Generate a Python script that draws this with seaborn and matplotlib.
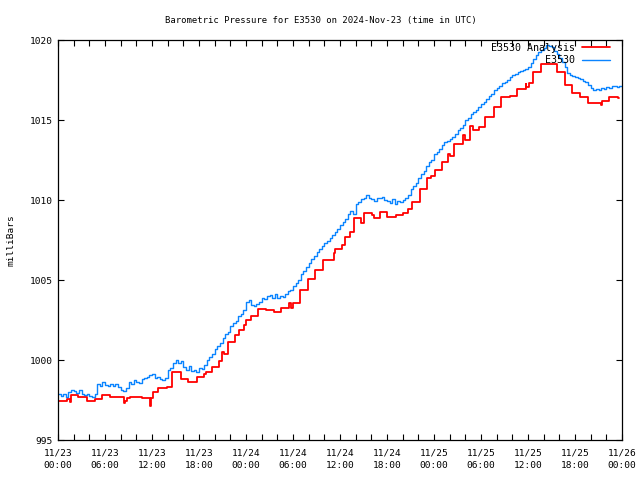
import matplotlib
matplotlib.use("Agg")
import matplotlib.pyplot as plt
import seaborn as sns
import numpy as np
import pandas as pd

# ---- data ----
title = "Barometric Pressure for E3530 on 2024-Nov-23 (time in UTC)"
ylabel = "milliBars"
series_names = ["E3530 Analysis", "E3530"]

# Analysis (step) series: hours since 11/23 00:00 UTC and values
analysis_hours = [0.0, 1.2, 1.5, 1.7, 2.6, 3.7, 4.7, 5.6, 6.6, 8.4, 8.6, 8.8, 9.2,
                  10.7, 11.5, 11.7, 11.9, 12.1, 12.8, 13.9, 14.6, 15.7, 16.6, 17.7,
                  18.6, 18.9, 19.6, 20.6, 20.9, 21.2, 21.7, 22.6, 23.1, 23.7, 24.0,
                  24.7, 25.5, 26.6, 27.6, 28.5, 29.5, 29.8, 30.0, 30.9, 31.9, 32.8,
                  33.8, 35.2, 35.3, 36.2, 36.6, 37.3, 37.8, 38.7, 39.1, 40.1, 40.4,
                  41.1, 42.0, 43.1, 44.1, 44.7, 45.2, 46.2, 47.1, 47.6, 48.1, 49.0,
                  49.8, 50.1, 50.6, 51.7, 52.0, 52.6, 53.0, 53.7, 54.5, 55.6, 56.6,
                  57.7, 58.6, 59.7, 59.8, 60.1, 60.6, 61.7, 63.7, 64.7, 65.6, 66.6,
                  67.7, 69.3, 69.5, 70.4, 71.5, 71.6]
analysis_vals = [997.45, 997.55, 997.35, 997.80, 997.67, 997.45, 997.58, 997.80, 997.67,
                 997.30, 997.45, 997.60, 997.70, 997.62, 997.60, 997.10, 997.60, 998.00,
                 998.23, 998.33, 999.23, 998.81, 998.64, 998.92, 999.12, 999.25, 999.54,
                 999.94, 1000.50, 1000.38, 1001.14, 1001.56, 1001.88, 1002.19, 1002.50,
                 1002.75, 1003.17, 1003.12, 1002.98, 1003.27, 1003.54, 1003.25, 1003.54,
                 1004.37, 1005.06, 1005.62, 1006.25, 1006.67, 1006.92, 1007.19, 1007.67,
                 1008.00, 1008.85, 1008.58, 1009.17, 1009.06, 1008.85, 1009.27, 1008.92,
                 1009.06, 1009.17, 1009.42, 1009.90, 1010.67, 1011.35, 1011.50, 1011.90,
                 1012.40, 1012.90, 1012.75, 1013.50, 1014.06, 1013.75, 1014.62, 1014.37,
                 1014.54, 1015.20, 1015.79, 1016.42, 1016.52, 1016.92, 1017.25, 1017.08,
                 1017.33, 1018.00, 1018.50, 1018.00, 1017.19, 1016.67, 1016.42, 1016.04,
                 1015.94, 1016.19, 1016.42, 1016.35, 1016.35]

# Observed series: every 20 minutes from 11/23 00:00 to 11/26 00:00
obs_vals = [
    997.85, 997.75, 997.90,  997.70, 998.00, 998.10,  998.05, 997.95, 998.10,
    997.90, 997.80, 997.85,  997.75, 997.70, 997.90,  998.50, 998.40, 998.60,
    998.45, 998.35, 998.50,  998.40, 998.50, 998.30,  998.15, 998.05, 998.25,
    998.60, 998.50, 998.75,  998.65, 998.55, 998.80,  998.90, 998.95, 999.05,
    999.15, 998.90, 998.95,  998.80, 998.75, 998.90,  999.35, 999.50, 999.80,
    1000.00, 999.80, 999.95,  999.55, 999.40, 999.60,  999.30, 999.40, 999.25,
    999.50, 999.45, 999.70,  1000.00, 1000.20, 1000.35,  1000.70, 1000.90, 1001.05,
    1001.40, 1001.60, 1001.75,  1002.10, 1002.30, 1002.45,  1002.75, 1002.90, 1003.10,
    1003.60, 1003.75, 1003.45,  1003.35, 1003.50, 1003.65,  1003.90, 1003.80, 1004.00,
    1004.05, 1003.90, 1004.10,  1003.85, 1004.00, 1003.95,  1004.15, 1004.30, 1004.40,
    1004.60, 1004.80, 1005.00,  1005.35, 1005.55, 1005.80,  1006.05, 1006.30, 1006.50,
    1006.75, 1006.95, 1007.10,  1007.30, 1007.45, 1007.60,  1007.80, 1008.00, 1008.20,
    1008.45, 1008.60, 1008.80,  1009.10, 1009.30, 1009.15,  1009.75, 1009.90, 1010.05,
    1010.15, 1010.30, 1010.10,  1010.05, 1009.95, 1010.15,  1010.10, 1010.20, 1010.00,
    1009.95, 1009.80, 1010.05,  1009.75, 1009.95, 1009.85,  1010.00, 1010.10, 1010.30,
    1010.70, 1010.85, 1011.05,  1011.40, 1011.60, 1011.80,  1012.15, 1012.35, 1012.50,
    1012.85, 1013.00, 1013.20,  1013.45, 1013.60, 1013.70,  1013.80, 1013.95, 1014.10,
    1014.35, 1014.50, 1014.70,  1015.00, 1015.15, 1015.35,  1015.50, 1015.65, 1015.80,
    1016.00, 1016.15, 1016.30,  1016.50, 1016.65, 1016.85,  1017.00, 1017.15, 1017.30,
    1017.40, 1017.50, 1017.70,  1017.80, 1017.90, 1018.00,  1018.05, 1018.15, 1018.20,
    1018.30, 1018.55, 1018.80,  1019.05, 1019.25, 1019.40,  1019.50, 1019.70, 1019.60,
    1019.55, 1019.30, 1019.10,  1018.85, 1018.60, 1018.30,  1017.95, 1017.80, 1017.75,
    1017.70, 1017.60, 1017.55,  1017.45, 1017.35, 1017.20,  1017.00, 1016.85, 1016.95,
    1016.90, 1017.00, 1016.95,  1017.05, 1017.00, 1017.10,  1017.10, 1017.05, 1017.10,
    1017.10,
]
obs_step_minutes = 20

xtick_hours = [0, 6, 12, 18, 24, 30, 36, 42, 48, 54, 60, 66, 72]
xtick_labels = ["11/23\n00:00", "11/23\n06:00", "11/23\n12:00", "11/23\n18:00",
                "11/24\n00:00", "11/24\n06:00", "11/24\n12:00", "11/24\n18:00",
                "11/25\n00:00", "11/25\n06:00", "11/25\n12:00", "11/25\n18:00",
                "11/26\n00:00"]
ytick_vals = [995, 1000, 1005, 1010, 1015, 1020]

# ---- styling ----
sns.set_theme(style="ticks")
plt.rcParams["font.family"] = ["DejaVu Sans Mono"]
plt.rcParams["font.size"] = 6.8
plt.rcParams["text.color"] = "black"
plt.rcParams["axes.labelcolor"] = "black"
plt.rcParams["xtick.color"] = "black"
plt.rcParams["ytick.color"] = "black"

fig = plt.figure(figsize=(6.4, 4.8), dpi=100)
ax = fig.add_axes([58 / 640, 40 / 480, 564 / 640, 400 / 480])

obs_hours = [i * obs_step_minutes / 60 for i in range(len(obs_vals))]
df_a = pd.DataFrame({"hour": analysis_hours, "value": analysis_vals})
df_o = pd.DataFrame({"hour": obs_hours, "value": obs_vals})

sns.lineplot(data=df_a, x="hour", y="value", ax=ax, color="#ff0000", linewidth=1.3,
             drawstyle="steps-post", estimator=None, sort=False, label=series_names[0])
sns.lineplot(data=df_o, x="hour", y="value", ax=ax, color="#0a84ff", linewidth=1.0,
             drawstyle="steps-post", estimator=None, sort=False, label=series_names[1])

ax.set_xlim(0, 72)
ax.set_ylim(995, 1020)
ax.set_xticks(xtick_hours)
ax.set_xticklabels(xtick_labels, fontsize=6.8, linespacing=1.5)
ax.set_xticks(np.arange(0, 73, 2), minor=True)
ax.set_yticks(ytick_vals)
ax.set_yticklabels([str(v) for v in ytick_vals], fontsize=6.8)
ax.tick_params(which="both", direction="in", top=True, right=True, length=4,
               width=0.8, pad=4)
ax.tick_params(axis="x", which="major", pad=6)
for s in ax.spines.values():
    s.set_linewidth(0.9)
    s.set_color("black")

ax.set_xlabel("")
ax.set_ylabel(ylabel, fontsize=6.8, labelpad=10)
fig.text(0.502, 0.958, title, ha="center", va="center", fontsize=6.4)

ax.legend(loc="upper right", bbox_to_anchor=(0.979, 0.993), frameon=False,
          markerfirst=False, fontsize=7.2, handlelength=2.8, handletextpad=0.7,
          labelspacing=0.25, borderaxespad=0.0, borderpad=0.0)

fig.savefig("out.png", dpi=100)
